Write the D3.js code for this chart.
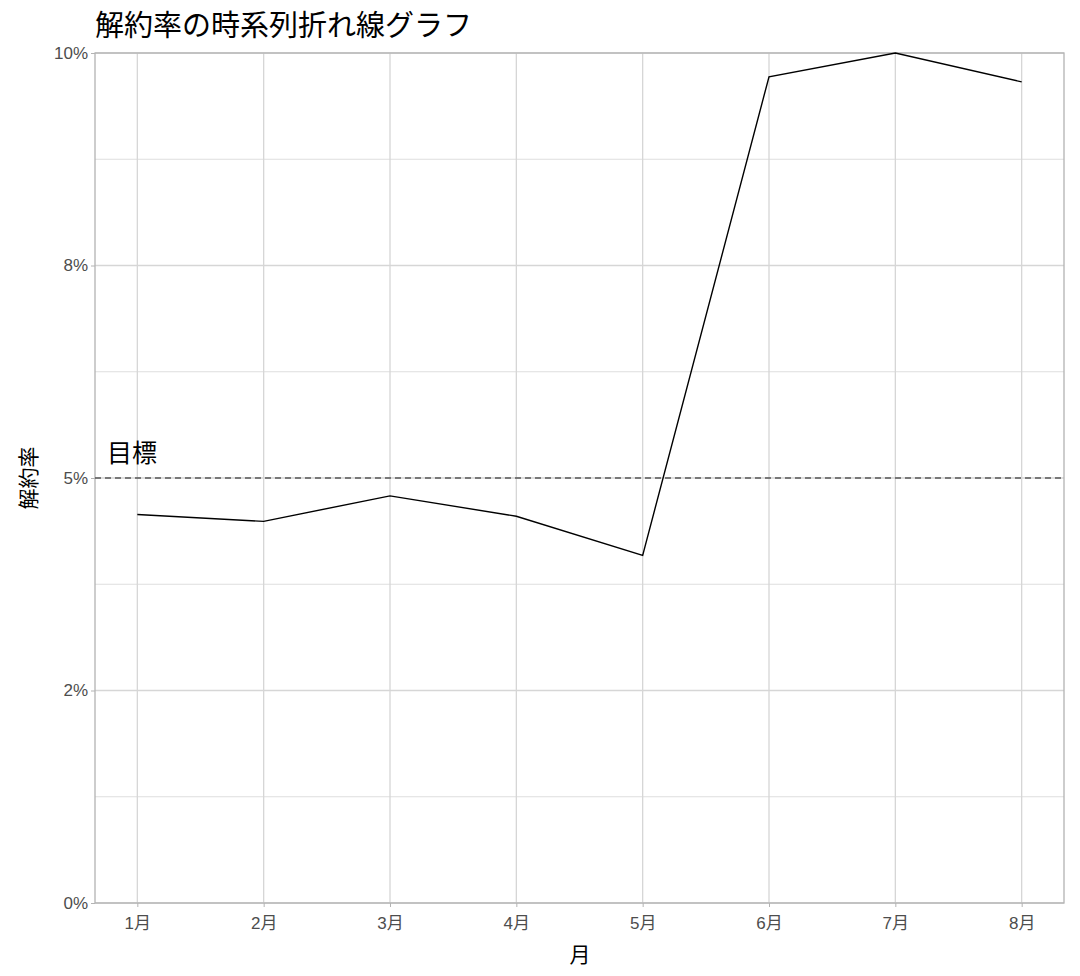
<!DOCTYPE html><html><head><meta charset="utf-8"><script src="https://cdn.jsdelivr.net/npm/d3@7"></script>
<style>body{margin:0;background:#fff}svg{font-family:"Noto Sans CJK JP","Noto Sans",sans-serif}</style></head><body><svg id="c" width="1080" height="976"></svg><script>
const months=["1月","2月","3月","4月","5月","6月","7月","8月"];
const rates=[4.57,4.49,4.79,4.55,4.09,9.72,10.0,9.66];
const yTicks=[0,2.5,5,7.5,10];
const yTickLabels=["0%","2%","5%","8%","10%"];
const yMinor=[1.25,3.75,6.25,8.75];
const target=5;
const svg=d3.select("#c");
const L=95,R=1064,T=53,B=903;
const x=d3.scaleLinear().domain([-0.335,7.335]).range([L,R]);
const y=d3.scaleLinear().domain([0,10]).range([B,T]);
const g=svg.append("g");
yMinor.forEach(v=>g.append("line").attr("x1",L).attr("x2",R).attr("y1",y(v)).attr("y2",y(v)).attr("stroke","#dedede").attr("stroke-width",1.2));
yTicks.forEach(v=>g.append("line").attr("x1",L).attr("x2",R).attr("y1",y(v)).attr("y2",y(v)).attr("stroke","#d6d6d6").attr("stroke-width",1.3));
months.forEach((m,i)=>g.append("line").attr("x1",x(i)).attr("x2",x(i)).attr("y1",T).attr("y2",B).attr("stroke","#d6d6d6").attr("stroke-width",1.3));
g.append("rect").attr("x",L).attr("y",T).attr("width",R-L).attr("height",B-T).attr("fill","none").attr("stroke","#b3b3b3").attr("stroke-width",1.3);
const ya=d3.axisLeft(y).tickValues(yTicks).tickFormat((d,i)=>yTickLabels[i]).tickSize(4);
const ay=svg.append("g").attr("transform",`translate(${L},0)`).call(ya);
const xa=d3.axisBottom(x).tickValues(d3.range(8)).tickFormat(i=>months[i]).tickSize(4);
const ax=svg.append("g").attr("transform",`translate(0,${B})`).call(xa);
[ay,ax].forEach(a=>{a.select(".domain").remove();a.selectAll(".tick line").attr("stroke","#b3b3b3");a.selectAll("text").attr("fill","#4d4d4d").style("font-size","17px").style("font-family","'Liberation Sans','Noto Sans CJK JP',sans-serif");});
ax.selectAll("text").attr("dy","1.1em");
g.append("line").attr("x1",L).attr("x2",R).attr("y1",y(target)).attr("y2",y(target)).attr("stroke","#555").attr("stroke-width",1.3).attr("stroke-dasharray","6,4");
g.append("path").datum(rates).attr("fill","none").attr("stroke","#000").attr("stroke-width",1.4).attr("d",d3.line().x((d,i)=>x(i)).y(d=>y(d)));
svg.append("text").attr("x",107).attr("y",462).text("目標").style("font-size","25px").attr("fill","#000");
svg.append("text").attr("x",95).attr("y",36).text("解約率の時系列折れ線グラフ").style("font-size","29px");
svg.append("text").attr("x",580).attr("y",962).attr("text-anchor","middle").text("月").style("font-size","21px");
svg.append("text").attr("transform","translate(36,478) rotate(-90)").attr("text-anchor","middle").text("解約率").style("font-size","21px");
</script></body></html>
